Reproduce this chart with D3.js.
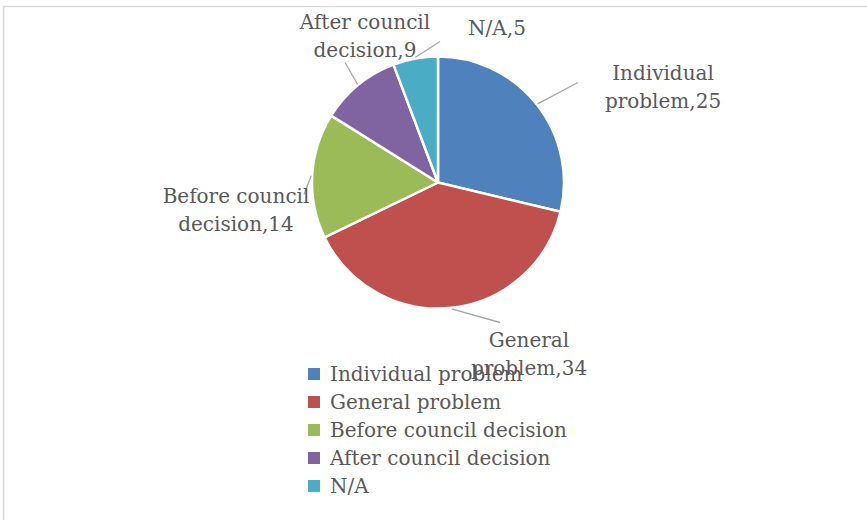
<!DOCTYPE html>
<html>
<head>
<meta charset="utf-8">
<script src="https://cdn.jsdelivr.net/npm/d3@7"></script>
<style>
  html, body { margin: 0; padding: 0; background: #fff; }
  svg { display: block; }
  text { font-family: "DejaVu Serif", "Liberation Serif", serif; fill: #595959; }
</style>
</head>
<body>
<svg id="chart" width="867" height="523"></svg>
<script>
// Categories and counts
const categories = ["Individual problem", "General problem", "Before council decision", "After council decision", "N/A"];
const values = [25, 34, 14, 9, 5];
const colors = ["#4F81BD", "#C0504D", "#9BBB59", "#8064A2", "#4BACC6"];
// Data label text lines (category split over two lines, then value)
const labelLines = [
  ["Individual", "problem,25"],
  ["General", "problem,34"],
  ["Before council", "decision,14"],
  ["After council", "decision,9"],
  ["N/A,5"]
];

// Layout of the labels: leader end point and text centre, relative to pie centre
const labelLayout = [
  { lead: [140, -100], text: [225, -96] },
  { lead: [62, 140], text: [91, 171] },
  { lead: [-134, 12], text: [-202, 27] },
  { lead: [-93, -120], text: [-73, -147] },
  { lead: [2, -141], text: [59, -155] }
];

const svg = d3.select("#chart");
const cx = 438, cy = 182.5, R = 126;

// chart area frame (top and left edges)
svg.append("path")
  .attr("d", "M3.5,520 V6.5 H867")
  .attr("fill", "none")
  .attr("stroke", "#d9d9d9")
  .attr("stroke-width", 1.5);

const data = categories.map((c, i) => ({ cat: c, value: values[i], i }));
const pie = d3.pie().value(d => d.value).sort(null);
const arcs = pie(data);
const arc = d3.arc().innerRadius(0).outerRadius(R);

const g = svg.append("g").attr("transform", `translate(${cx},${cy})`);

g.selectAll("path.slice")
  .data(arcs)
  .join("path")
  .attr("class", "slice")
  .attr("d", arc)
  .attr("fill", d => colors[d.data.i])
  .attr("stroke", "#fff")
  .attr("stroke-width", 2.5)
  .attr("stroke-linejoin", "round");

// leader lines from the slice edge at its mid angle
const edge = d3.arc().innerRadius(R + 1).outerRadius(R + 1);
g.selectAll("line.leader")
  .data(arcs)
  .join("line")
  .attr("class", "leader")
  .each(function (d) {
    const p = edge.centroid(d);
    const L = labelLayout[d.data.i].lead;
    d3.select(this)
      .attr("x1", p[0]).attr("y1", p[1])
      .attr("x2", L[0]).attr("y2", L[1]);
  })
  .attr("stroke", "#a6a6a6")
  .attr("stroke-width", 1.3);

// data labels
const fs = 20, lh = 28;
arcs.forEach(d => {
  const lines = labelLines[d.data.i];
  const T = labelLayout[d.data.i].text;
  const t = g.append("text")
    .attr("text-anchor", "middle")
    .attr("font-size", fs);
  lines.forEach((ln, k) => {
    t.append("tspan")
      .attr("x", T[0])
      .attr("y", T[1] + (k - (lines.length - 1) / 2) * lh + fs * 0.35)
      .text(ln);
  });
});

// legend
const lg = svg.append("g").attr("transform", "translate(308,374)");
const rows = lg.selectAll("g.row")
  .data(categories)
  .join("g")
  .attr("class", "row")
  .attr("transform", (d, i) => `translate(0,${i * 28})`);
rows.append("rect")
  .attr("x", 0).attr("y", -6)
  .attr("width", 12).attr("height", 12)
  .attr("fill", (d, i) => colors[i]);
rows.append("text")
  .attr("x", 22)
  .attr("y", 7)
  .attr("font-size", fs)
  .text(d => d);
</script>
</body>
</html>
